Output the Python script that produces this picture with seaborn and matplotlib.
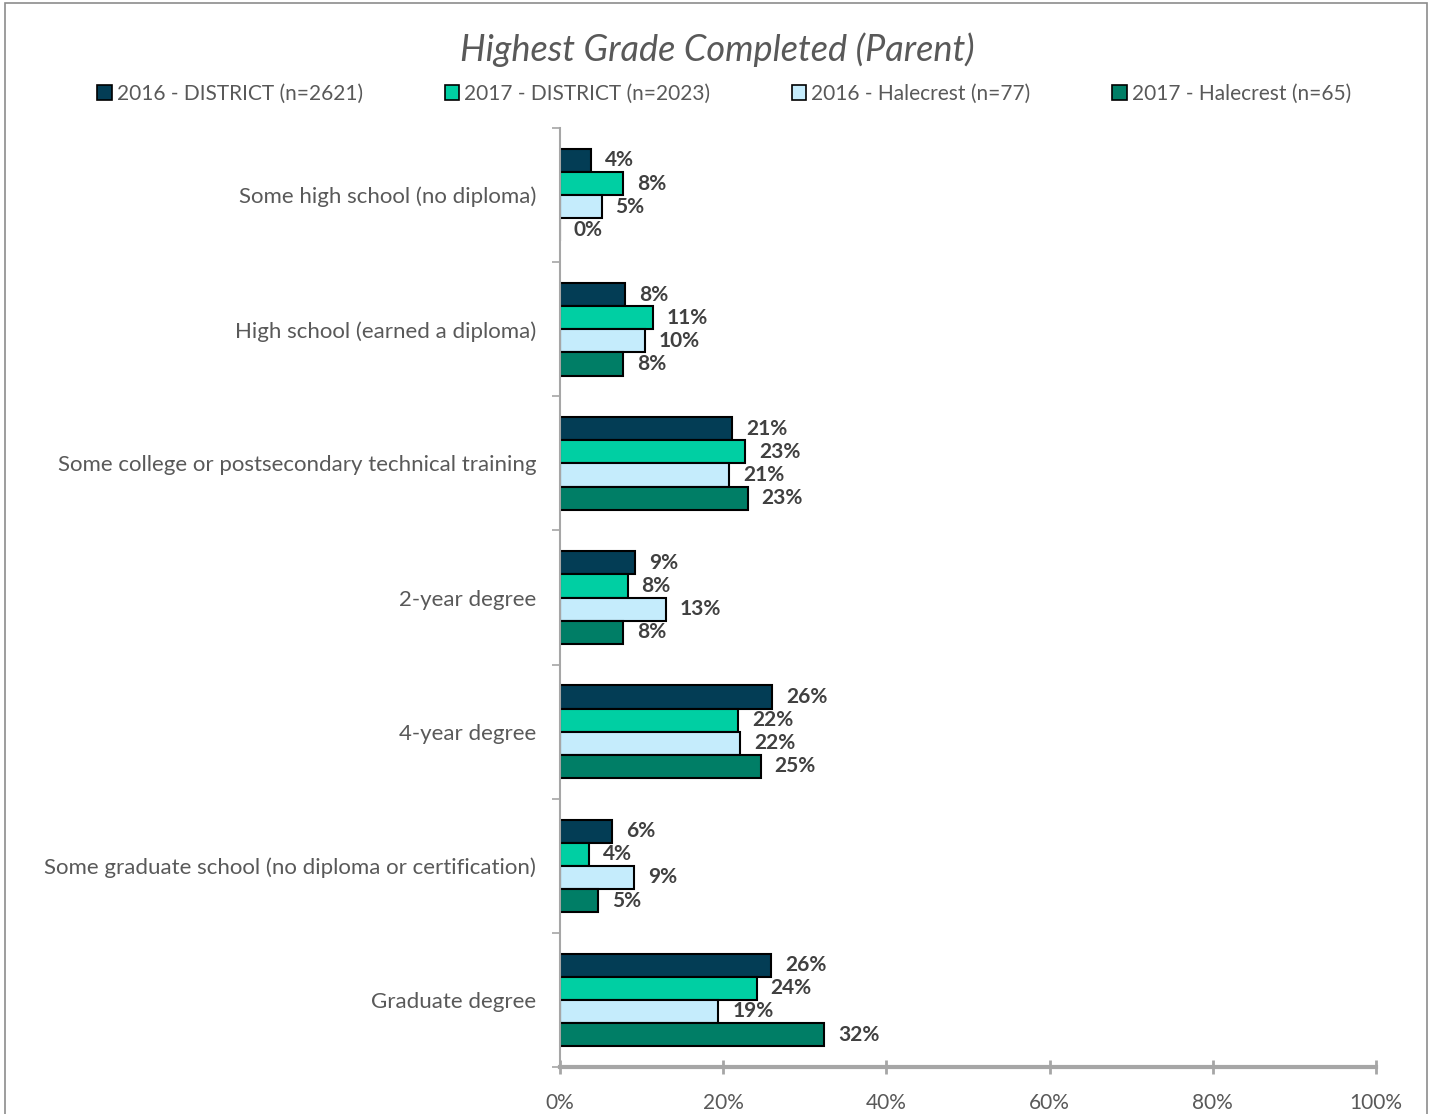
import matplotlib
matplotlib.use("Agg")
import matplotlib.pyplot as plt
from matplotlib.patches import Rectangle, Patch
from matplotlib.ticker import PercentFormatter, FixedLocator
import pandas as pd
import seaborn as sns

# data
categories = [
    "Some high school (no diploma)",
    "High school (earned a diploma)",
    "Some college or postsecondary technical training",
    "2-year degree",
    "4-year degree",
    "Some graduate school (no diploma or certification)",
    "Graduate degree",
]
series = [
    "2016 - DISTRICT (n=2621)",
    "2017 - DISTRICT (n=2023)",
    "2016 - Halecrest (n=77)",
    "2017 - Halecrest (n=65)",
]
district_2016 = [0.038, 0.080, 0.211, 0.092, 0.260, 0.064, 0.259]
district_2017 = [0.077, 0.114, 0.227, 0.083, 0.218, 0.036, 0.241]
halecrest_2016 = [0.051, 0.104, 0.207, 0.130, 0.221, 0.091, 0.194]
halecrest_2017 = [0.000, 0.077, 0.230, 0.077, 0.246, 0.047, 0.324]
colors = ["#033d55", "#00cfa3", "#c5ecfc", "#007e66"]

values = [district_2016, district_2017, halecrest_2016, halecrest_2017]
rows = []
for s, vals in zip(series, values):
    for c, v in zip(categories, vals):
        rows.append({"category": c, "series": s, "value": v})
df = pd.DataFrame(rows)

sns.set_theme(style="white")
plt.rcParams["font.family"] = ["Lato", "DejaVu Sans"]

fig = plt.figure(figsize=(14.34, 11.14), dpi=100)
ax = fig.add_axes([0.3905, 0.0422, 0.5691, 0.8428])

sns.barplot(data=df, y="category", x="value", hue="series", orient="h",
            order=categories, hue_order=series, palette=colors, saturation=1,
            edgecolor="black", linewidth=1.5, width=0.69, legend=False, ax=ax)

for cont, vals in zip(ax.containers, values):
    ax.bar_label(cont, labels=[f"{v:.0%}" for v in vals], padding=10,
                 fontsize=15, fontweight="bold", color="#404040")

ax.set_xlim(0, 1)
ax.set_ylim(len(categories) - 0.5, -0.5)
ax.xaxis.set_major_formatter(PercentFormatter(1.0, decimals=0))
ax.set_xticks([0, 0.2, 0.4, 0.6, 0.8, 1.0])
ax.set_xlabel("")
ax.set_ylabel("")

ax.yaxis.set_minor_locator(FixedLocator([i - 0.5 for i in range(len(categories) + 1)]))
ax.tick_params(axis="y", which="major", length=0, labelsize=16, labelcolor="#595959", pad=17)
ax.tick_params(axis="y", which="minor", left=True, length=6, width=1.2, color="#a6a6a6")
ax.tick_params(axis="x", which="major", bottom=True, direction="inout", length=10,
               width=2, color="#a6a6a6", labelsize=15, labelcolor="#595959", pad=14)

for side in ["top", "right"]:
    ax.spines[side].set_visible(False)
ax.spines["left"].set_color("#a6a6a6")
ax.spines["left"].set_linewidth(1.5)
ax.spines["bottom"].set_color("#a6a6a6")
ax.spines["bottom"].set_linewidth(3)

fig.text(0.5, 0.955, "Highest Grade Completed (Parent)", ha="center", va="center",
         fontsize=26, fontstyle="italic", color="#595959")

handles = [Patch(facecolor=c, edgecolor="black", linewidth=1.2) for c in colors]
fig.legend(handles, series, loc="center", bbox_to_anchor=(0.505, 0.916), ncol=4,
           frameon=False, fontsize=15, labelcolor="#595959", handlelength=0.7,
           handleheight=0.7, handletextpad=0.25, columnspacing=3.9)

fig.patches.append(Rectangle((5 / 1434, -0.01), 1422 / 1434, 1.01 - 3 / 1114,
                             transform=fig.transFigure, fill=False,
                             edgecolor="#8c8c8c", linewidth=1.2))

fig.savefig("out.png", dpi=100)
